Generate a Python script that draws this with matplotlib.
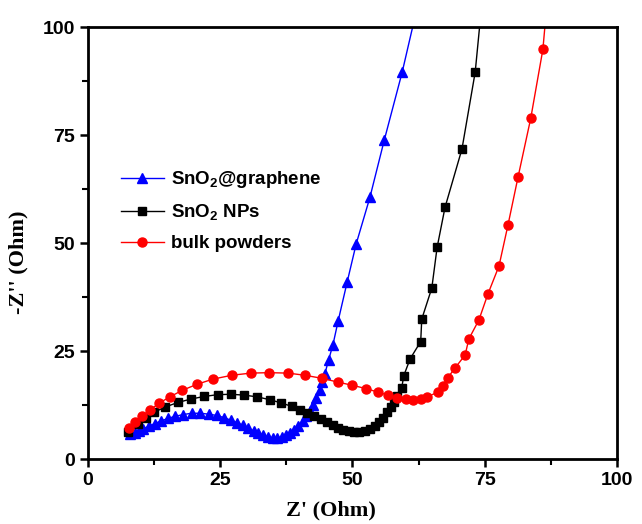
import numpy as np
import matplotlib
matplotlib.use("Agg")
from matplotlib import pyplot as plt
from matplotlib.ticker import MultipleLocator

plt.rcParams["font.family"] = ["Liberation Sans", "DejaVu Sans"]
plt.rcParams["mathtext.fontset"] = "custom"
plt.rcParams["mathtext.bf"] = "Liberation Sans:bold"
plt.rcParams["mathtext.rm"] = "Liberation Sans:bold"

# SnO2@graphene (blue triangles)
graphene_x = [8.0, 8.8, 9.6, 10.5, 11.5, 12.6, 13.8, 15.1, 16.5, 18.0, 19.6, 21.2,
              22.8, 24.3, 25.7, 27.0, 28.2, 29.3, 30.3, 31.3, 32.2, 33.1, 34.0,
              34.9, 35.8, 36.6, 37.4, 38.2, 39.0, 39.8, 40.6, 41.3, 42.0, 42.6,
              43.2, 43.8, 44.3, 44.8, 45.5, 46.3, 47.3, 49.0, 50.7, 53.3, 56.0,
              59.4, 62.5]
graphene_y = [5.8, 6.1, 6.5, 7.0, 7.6, 8.2, 8.8, 9.4, 9.9, 10.3, 10.6, 10.6,
              10.4, 10.1, 9.6, 9.0, 8.4, 7.8, 7.1, 6.5, 6.0, 5.5, 5.1,
              4.9, 4.9, 5.1, 5.5, 6.0, 6.7, 7.6, 8.7, 9.9, 11.2, 12.6,
              14.2, 16.0, 17.8, 19.8, 23.0, 26.4, 32.0, 41.0, 49.8, 60.6, 73.8,
              89.6, 106]

# SnO2 NPs (black squares)
nps_x = [7.5, 9.5, 11, 12.5, 14.5, 17, 19.5, 22, 24.5, 27, 29.5, 32, 34.5, 36.5,
         38.5, 40, 41.5, 42.8, 44, 45.2, 46.3, 47.3, 48.3, 49.3, 50.3, 51.3, 52.3,
         53.3, 54.2, 55, 55.8, 56.5, 57.2, 57.8, 58.4, 59.3, 59.7, 60.9, 62.9,
         63.1, 65.0, 66.0, 67.5, 70.7, 73.2, 74.5]
nps_y = [6.3, 8.2, 9.6, 10.8, 12.0, 13.1, 13.9, 14.5, 14.9, 15.0, 14.8, 14.4, 13.7,
         13.0, 12.2, 11.4, 10.6, 9.9, 9.2, 8.5, 7.8, 7.2, 6.8, 6.4, 6.2, 6.2, 6.5,
         7.0, 7.7, 8.5, 9.6, 10.8, 12.0, 13.2, 14.6, 16.4, 19.3, 23.2, 27.2, 32.4,
         39.6, 49.0, 58.3, 71.8, 89.6, 106]

# bulk powders (red circles)
bulk_x = [7.8, 8.9, 10.2, 11.7, 13.4, 15.5, 17.8, 20.6, 23.6, 27.2, 30.8, 34.2,
          37.8, 41.0, 44.2, 47.3, 49.9, 52.6, 54.8, 56.7, 58.4, 60.1, 61.4, 63.0,
          64.1, 66.2, 67.1, 68.0, 69.4, 71.3, 72.0, 73.9, 75.6, 77.7, 79.4, 81.3,
          83.7, 86.0, 86.8]
bulk_y = [7.2, 8.6, 10.0, 11.3, 12.9, 14.4, 15.9, 17.3, 18.5, 19.4, 19.9, 20.0,
          19.9, 19.4, 18.7, 17.8, 17.1, 16.3, 15.5, 14.8, 14.2, 13.9, 13.7, 13.9,
          14.4, 15.5, 17.0, 18.8, 21.1, 24.1, 27.8, 32.2, 38.2, 44.7, 54.2, 65.3,
          78.9, 94.9, 106]

fig = plt.figure(figsize=(6.42, 5.24), dpi=100)
ax = fig.add_axes([0.137, 0.124, 0.824, 0.824])

ax.plot(graphene_x, graphene_y, "-^", color="blue", lw=1, ms=7,
        label=r"SnO$_\mathbf{2}$@graphene")
ax.plot(nps_x, nps_y, "-s", color="black", lw=1, ms=5.5,
        label=r"SnO$_\mathbf{2}$ NPs")
ax.plot(bulk_x, bulk_y, "-o", color="red", lw=1, ms=6.5,
        label="bulk powders")

ax.set_xlim(0, 100)
ax.set_ylim(0, 100)
ax.xaxis.set_major_locator(MultipleLocator(25))
ax.xaxis.set_minor_locator(MultipleLocator(12.5))
ax.yaxis.set_major_locator(MultipleLocator(25))
ax.yaxis.set_minor_locator(MultipleLocator(12.5))
ax.tick_params(which="major", direction="out", length=6, width=1.8,
               labelsize=14, top=False, right=False)
ax.tick_params(which="minor", direction="out", length=4, width=1.5,
               top=False, right=False)
for lbl in ax.get_xticklabels() + ax.get_yticklabels():
    lbl.set_fontweight("bold")
for sp in ax.spines.values():
    sp.set_linewidth(2)

ax.set_xlabel("Z' (Ohm)", fontsize=16, fontweight="bold",
              family="Liberation Serif")
ax.set_ylabel("-Z'' (Ohm)", fontsize=16, fontweight="bold",
              family="Liberation Serif")
ax.xaxis.set_label_coords(0.46, -0.097)
ax.yaxis.set_label_coords(-0.112, 0.456)

leg = ax.legend(loc="upper left", bbox_to_anchor=(0.03, 0.71), frameon=False,
                handlelength=2.3, labelspacing=0.65, handletextpad=0.4,
                prop={"weight": "bold", "size": 13.5})

fig.savefig("out.png", dpi=100)
